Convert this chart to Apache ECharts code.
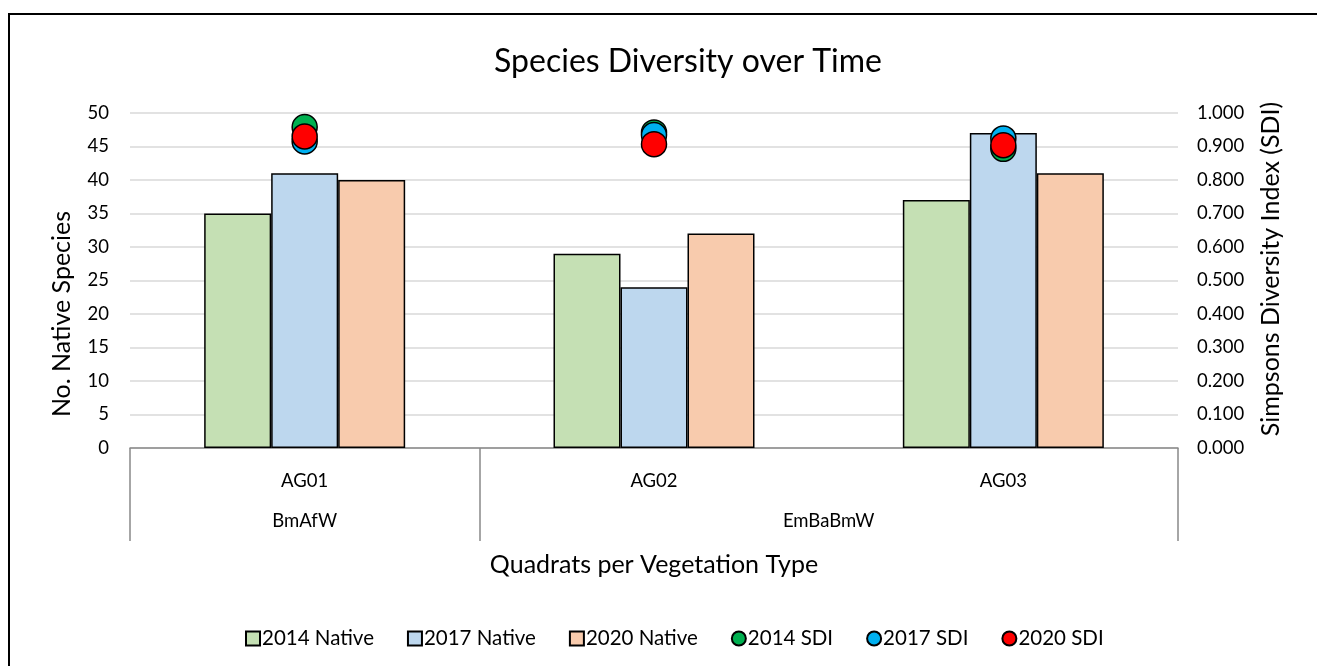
<!DOCTYPE html>
<html>
<head>
<meta charset="utf-8">
<script src="https://cdn.jsdelivr.net/npm/echarts@6/dist/echarts.min.js"></script>
<style>
  html, body { margin: 0; padding: 0; background: #fff; }
  #chart { width: 1317px; height: 666px; }
</style>
</head>
<body>
<div id="chart"></div>
<script>
// Quadrats (first level of the category axis)
const quadrats = ['AG01', 'AG02', 'AG03'];
// Vegetation types (second level) and how many quadrats each spans
const vegTypes = ['BmAfW', 'EmBaBmW'];
const vegSpan = [1, 2];

// Native species counts per survey year
const native2014 = [35, 29, 37];
const native2017 = [41, 24, 47];
const native2020 = [40, 32, 41];

// Simpsons Diversity Index per survey year
const sdi2014 = [0.958, 0.942, 0.893];
const sdi2017 = [0.915, 0.934, 0.924];
const sdi2020 = [0.930, 0.907, 0.904];

const leftTicks = { min: 0, max: 50, interval: 5 };
const rightTicks = { min: 0, max: 1, interval: 0.1 };

// Boundaries and centres of vegetation-type groups along the quadrat axis
const vegBounds = [0];
vegSpan.forEach(s => vegBounds.push(vegBounds[vegBounds.length - 1] + s));
const vegCentres = vegSpan.map((s, i) => vegBounds[i] + s / 2);

const FONT = 'Lato, "Open Sans", sans-serif';
const AXIS_GREY = '#898989';
const TICK_SIZE = 18.5;
const NAME_SIZE = 25;

const barStyle = c => ({ color: c, borderColor: '#000', borderWidth: 1.5 });
const dotStyle = c => ({ color: c, opacity: 1, borderColor: '#000', borderWidth: 1.5 });

const chart = echarts.init(document.getElementById('chart'), null, { renderer: 'canvas' });

chart.setOption({
  backgroundColor: '#fff',
  animation: false,
  textStyle: { fontFamily: FONT, color: '#000' },
  title: {
    text: 'Species Diversity over Time',
    left: 683, top: 41, textAlign: 'center',
    textStyle: { fontFamily: FONT, fontSize: 32, fontWeight: 'normal', color: '#000' }
  },
  grid: { left: 130, right: 139, top: 113, bottom: 218, containLabel: false },
  legend: {
    top: 623, left: 240,
    itemWidth: 14, itemHeight: 14, itemGap: 33,
    textStyle: { fontFamily: FONT, fontSize: 20.5, color: '#000', padding: [0, 0, 0, -3] },
    data: [
      { name: '2014 Native', icon: 'rect' },
      { name: '2017 Native', icon: 'rect' },
      { name: '2020 Native', icon: 'rect' },
      { name: '2014 SDI', icon: 'circle' },
      { name: '2017 SDI', icon: 'circle' },
      { name: '2020 SDI', icon: 'circle' }
    ]
  },
  xAxis: [
    {
      type: 'category',
      data: quadrats,
      name: 'Quadrats per Vegetation Type',
      nameLocation: 'middle',
      nameGap: 104,
      nameTextStyle: { fontFamily: FONT, fontSize: NAME_SIZE, color: '#000' },
      axisLine: { lineStyle: { color: AXIS_GREY, width: 1.5 } },
      axisTick: { show: false },
      axisLabel: { margin: 24, fontSize: TICK_SIZE, color: '#000', fontFamily: FONT },
      splitLine: { show: false }
    },
    {
      type: 'value',
      position: 'bottom',
      min: 0, max: vegBounds[vegBounds.length - 1],
      axisLine: { show: false },
      splitLine: { show: false },
      axisTick: {
        show: true, customValues: vegBounds, length: 93,
        lineStyle: { color: AXIS_GREY, width: 1.5 }
      },
      axisLabel: {
        customValues: vegCentres,
        margin: 64, fontSize: TICK_SIZE, color: '#000', fontFamily: FONT,
        formatter: v => vegTypes[vegCentres.indexOf(v)] || ''
      }
    }
  ],
  yAxis: [
    {
      type: 'value',
      min: leftTicks.min, max: leftTicks.max, interval: leftTicks.interval,
      axisLine: { show: false },
      axisTick: { show: false },
      axisLabel: { margin: 21, fontSize: TICK_SIZE, color: '#000', fontFamily: FONT },
      splitLine: { lineStyle: { color: '#D9D9D9', width: 1.5 } }
    },
    {
      type: 'value',
      min: rightTicks.min, max: rightTicks.max, interval: rightTicks.interval,
      axisLine: { show: false },
      axisTick: { show: false },
      axisLabel: {
        margin: 19, fontSize: TICK_SIZE, color: '#000', fontFamily: FONT,
        formatter: v => v.toFixed(3)
      },
      splitLine: { show: false }
    }
  ],
  series: [
    { name: '2014 Native', type: 'bar', data: native2014, barWidth: 67, barGap: '0%', itemStyle: barStyle('#C5E0B4') },
    { name: '2017 Native', type: 'bar', data: native2017, barWidth: 67, barGap: '0%', itemStyle: barStyle('#BDD7EE') },
    { name: '2020 Native', type: 'bar', data: native2020, barWidth: 67, barGap: '0%', itemStyle: barStyle('#F8CBAD') },
    { name: '2014 SDI', type: 'scatter', yAxisIndex: 1, data: sdi2014, symbolSize: 25, z: 3, itemStyle: dotStyle('#00B050') },
    { name: '2017 SDI', type: 'scatter', yAxisIndex: 1, data: sdi2017, symbolSize: 25, z: 4, itemStyle: dotStyle('#00B0F0') },
    { name: '2020 SDI', type: 'scatter', yAxisIndex: 1, data: sdi2020, symbolSize: 25, z: 5, itemStyle: dotStyle('#FF0000') }
  ],
  graphic: [
    {
      type: 'rect', silent: true, z: 100,
      shape: { x: 9, y: 14, width: 1400, height: 800 },
      style: { fill: 'none', stroke: '#000', lineWidth: 2 }
    },
    {
      type: 'text', x: 62, y: 314, rotation: Math.PI / 2,
      style: {
        text: 'No. Native Species', fontFamily: FONT, fontSize: NAME_SIZE, fill: '#000',
        textAlign: 'center', textVerticalAlign: 'middle'
      }
    },
    {
      type: 'text', x: 1271, y: 269, rotation: Math.PI / 2,
      style: {
        text: 'Simpsons Diversity Index (SDI)', fontFamily: FONT, fontSize: NAME_SIZE, fill: '#000',
        textAlign: 'center', textVerticalAlign: 'middle'
      }
    }
  ]
});
</script>
</body>
</html>
